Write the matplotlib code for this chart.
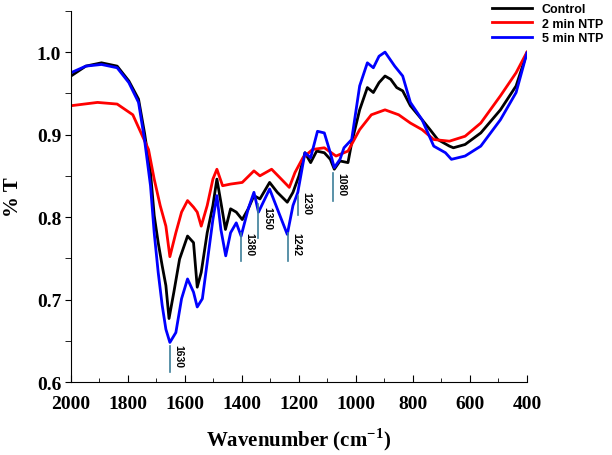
import matplotlib
matplotlib.use("Agg")
import matplotlib.pyplot as plt
from matplotlib.ticker import MultipleLocator

plt.rcParams["mathtext.fontset"] = "custom"
plt.rcParams["mathtext.rm"] = "Liberation Serif:bold"
plt.rcParams["mathtext.bf"] = "Liberation Serif:bold"

# Control
wn_control = [2000, 1948, 1893, 1838, 1797, 1763, 1742, 1721, 1708, 1694, 1680, 1667, 1656, 1639,
              1619, 1591, 1570, 1557, 1543, 1522, 1502, 1488, 1474, 1458, 1440, 1420, 1399, 1378,
              1358, 1337, 1303, 1276, 1241, 1221, 1200, 1179, 1159, 1138, 1111, 1090, 1076, 1056,
              1028, 1015, 987, 960, 939, 919, 898, 878, 857, 836, 809, 768, 740, 713, 672, 658,
              617, 562, 493, 438, 400]
t_control = [0.971, 0.983, 0.987, 0.983, 0.965, 0.943, 0.902, 0.854, 0.802, 0.769, 0.741, 0.717, 0.677, 0.709,
             0.749, 0.777, 0.769, 0.715, 0.733, 0.781, 0.814, 0.846, 0.818, 0.785, 0.810, 0.806, 0.797, 0.810,
             0.826, 0.822, 0.842, 0.830, 0.818, 0.830, 0.850, 0.878, 0.866, 0.880, 0.878, 0.870, 0.858, 0.868,
             0.866, 0.890, 0.930, 0.957, 0.951, 0.963, 0.971, 0.967, 0.957, 0.953, 0.935, 0.918, 0.906, 0.894, 0.886, 0.884,
             0.888, 0.902, 0.930, 0.959, 0.999]

# 2 min NTP
wn_2min = [2000, 1907, 1838, 1783, 1749, 1728, 1708, 1687, 1667, 1653, 1632, 1612, 1591, 1570, 1557,
           1543, 1522, 1502, 1488, 1468, 1440, 1399, 1358, 1337, 1296, 1262, 1234, 1214, 1186, 1152,
           1111, 1070, 1028, 987, 946, 898, 850, 809, 768, 727, 672, 617, 562, 493, 438, 400]
t_2min = [0.935, 0.939, 0.937, 0.924, 0.898, 0.882, 0.846, 0.814, 0.789, 0.752, 0.781, 0.806, 0.820, 0.812, 0.806,
          0.789, 0.814, 0.846, 0.858, 0.838, 0.840, 0.842, 0.856, 0.850, 0.858, 0.846, 0.836, 0.854, 0.872, 0.882,
          0.884, 0.874, 0.880, 0.906, 0.924, 0.930, 0.924, 0.914, 0.906, 0.894, 0.892, 0.898, 0.914, 0.947, 0.975, 1.0]

# 5 min NTP
wn_5min = [2000, 1948, 1893, 1838, 1797, 1763, 1742, 1721, 1708, 1694, 1680, 1667, 1653, 1632, 1612,
           1591, 1570, 1557, 1539, 1522, 1502, 1488, 1474, 1457, 1440, 1420, 1403, 1378, 1358, 1342,
           1303, 1276, 1241, 1221, 1204, 1179, 1159, 1135, 1111, 1090, 1076, 1056, 1042, 1015, 987,
           960, 939, 919, 898, 864, 836, 809, 768, 727, 686, 665, 617, 562, 493, 438, 400]
t_5min = [0.975, 0.983, 0.985, 0.981, 0.963, 0.939, 0.894, 0.838, 0.781, 0.733, 0.693, 0.664, 0.648, 0.660, 0.701,
          0.725, 0.709, 0.691, 0.701, 0.745, 0.797, 0.826, 0.785, 0.753, 0.781, 0.793, 0.777, 0.810, 0.830, 0.806,
          0.834, 0.810, 0.779, 0.814, 0.830, 0.878, 0.872, 0.904, 0.902, 0.878, 0.860, 0.870, 0.884, 0.894, 0.959,
          0.987, 0.981, 0.995, 1.0, 0.983, 0.971, 0.939, 0.918, 0.886, 0.878, 0.870, 0.874, 0.886, 0.918, 0.951, 0.999]

# peak markers: label, line position, line bottom, line top
peak_labels = ["1630", "1380", "1350", "1242", "1230", "1080"]
peak_wn = [1654, 1403, 1342, 1240, 1204, 1081]
peak_low = [0.612, 0.747, 0.775, 0.747, 0.802, 0.820]
peak_high = [0.644, 0.781, 0.816, 0.781, 0.826, 0.854]

fig = plt.figure(figsize=(6.12, 4.56), dpi=100)
ax = fig.add_axes([0.116, 0.160, 0.745, 0.814])

ax.plot(wn_control, t_control, color="black", lw=2, label="Control")
ax.plot(wn_2min, t_2min, color="red", lw=2, label="2 min NTP")
ax.plot(wn_5min, t_5min, color="blue", lw=2, label="5 min NTP")

for lab, x, lo, hi in zip(peak_labels, peak_wn, peak_low, peak_high):
    ax.plot([x, x], [lo, hi], color="#3d7f9a", lw=1.2)
    ax.text(x - 12, (lo + hi) / 2 + 0.004, lab, rotation=270, fontsize=7.5, fontweight="bold",
            family="Liberation Sans", ha="left", va="center")

ax.set_xlim(2000, 400)
ax.set_ylim(0.6, 1.05)
ax.set_yticks([0.6, 0.7, 0.8, 0.9, 1.0])
ax.xaxis.set_major_locator(MultipleLocator(200))
ax.xaxis.set_minor_locator(MultipleLocator(100))
ax.yaxis.set_minor_locator(MultipleLocator(0.05))
ax.spines["top"].set_visible(False)
ax.spines["right"].set_visible(False)
ax.tick_params(axis="x", which="both", direction="in", pad=9)
ax.tick_params(axis="x", which="major", length=5)
ax.tick_params(axis="x", which="minor", length=3)
ax.tick_params(axis="y", which="both", direction="out", length=4, pad=3)
for lbl in ax.get_xticklabels() + ax.get_yticklabels():
    lbl.set_family("Liberation Serif")
    lbl.set_fontweight("bold")
    lbl.set_fontsize(14)

ax.set_xlabel("Wavenumber (cm$^{-1}$)", family="Liberation Serif", fontweight="bold",
              fontsize=15, labelpad=10)
ax.set_ylabel("% T", family="Liberation Serif", fontweight="bold", fontsize=15, labelpad=10)

leg = fig.legend(loc="upper right", bbox_to_anchor=(1.0, 1.01), frameon=False,
                 prop={"family": "Liberation Sans", "weight": "bold", "size": 9},
                 handlelength=3.2, labelspacing=0.2, borderpad=0.2)

fig.savefig("out.png", dpi=100)
